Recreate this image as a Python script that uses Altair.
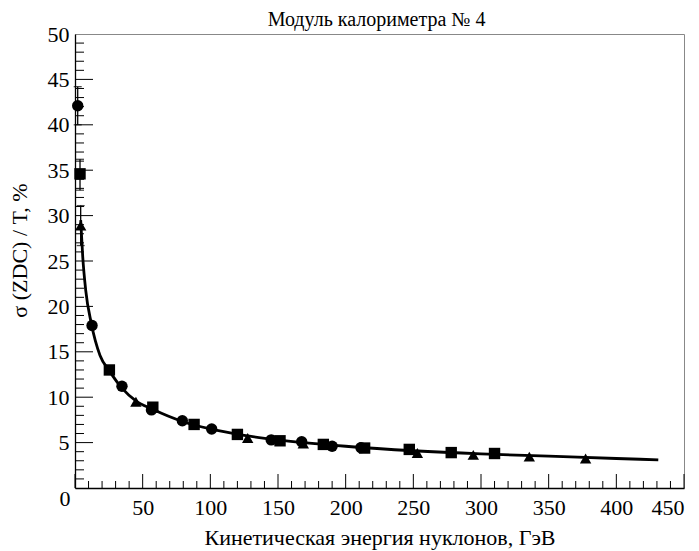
import altair as alt
import pandas as pd

# --- data ---
circle_x = [2.0, 12.6, 34.7, 56.5, 79.3, 101.0, 145.0, 167.5, 190.0, 211.3]
circle_y = [42.1, 17.9, 11.2, 8.6, 7.4, 6.5, 5.3, 5.1, 4.6, 4.45]
square_x = [3.7, 25.4, 57.5, 88.0, 120.0, 151.5, 183.5, 214.0, 247.0, 278.0, 310.0]
square_y = [34.6, 13.0, 8.9, 7.0, 5.9, 5.2, 4.8, 4.4, 4.25, 3.9, 3.8]
tri_x = [4.2, 45.0, 127.6, 168.7, 253.0, 294.3, 335.7, 377.3]
tri_y = [28.9, 9.5, 5.5, 4.9, 3.85, 3.65, 3.45, 3.25]

fit_x = [4.2, 5.7, 7.9, 12.1, 18.5, 25.4, 34.7, 45.0, 57.0, 80.0, 100.0, 125.0,
         150.0, 200.0, 250.0, 300.0, 350.0, 400.0, 431.0]
fit_y = [29.5, 25.5, 21.8, 18.1, 14.6, 12.9, 11.0, 9.6, 8.7, 7.3, 6.5, 5.8,
         5.3, 4.6, 4.1, 3.75, 3.5, 3.25, 3.1]

err_x = [2.0, 3.7, 4.2]
err_lo = [40.0, 32.8, 26.7]
err_hi = [44.2, 36.2, 31.1]

x_labels = [50, 100, 150, 200, 250, 300, 350, 400, 450]
y_labels = [5, 10, 15, 20, 25, 30, 35, 40, 45, 50]
x_major = [0, 50, 100, 150, 200, 250, 300, 350, 400, 450]
x_minor = [v for v in range(10, 450, 10) if v % 50 != 0]
y_major = [5, 10, 15, 20, 25, 30, 35, 40, 45]
y_minor = [v for v in range(1, 50) if v % 5 != 0]

title_text = "Модуль калориметра № 4"
x_title = "Кинетическая энергия нуклонов, ГэВ"
y_title = "σ (ZDC) / T, %"

FONT = "Liberation Serif"
W, H = 609, 454

pts = pd.DataFrame({
    "x": circle_x + square_x + tri_x,
    "y": circle_y + square_y + tri_y,
    "s": ["c"] * len(circle_x) + ["s"] * len(square_x) + ["t"] * len(tri_x),
})
fit = pd.DataFrame({"x": fit_x, "y": fit_y})
err = pd.DataFrame({"x": err_x, "lo": err_lo, "hi": err_hi})

xscale = alt.Scale(domain=[0, 450], nice=False, zero=True)
yscale = alt.Scale(domain=[0, 50], nice=False, zero=True)

x_enc = alt.X("x:Q", scale=xscale, axis=alt.Axis(
    values=x_labels, ticks=False, grid=False, title=x_title,
    labelPadding=9, titleY=49, titleBaseline="middle"))
y_enc = alt.Y("y:Q", scale=yscale, axis=alt.Axis(
    values=y_labels, ticks=False, grid=False, title=y_title,
    labelPadding=6, titleX=-56, titleY=216, titleAlign="center",
    titleBaseline="middle", titleAngle=-90))

base_line = alt.Chart(fit).mark_line(
    color="black", strokeWidth=2.8, interpolate="monotone"
).encode(x=x_enc, y=y_enc)

xmaj = alt.Chart(pd.DataFrame({"x": x_major})).mark_rule(color="black", strokeWidth=1).encode(
    x=alt.X("x:Q", scale=xscale), y=alt.value(H), y2=alt.value(H - 14))
xmin = alt.Chart(pd.DataFrame({"x": x_minor})).mark_rule(color="black", strokeWidth=1).encode(
    x=alt.X("x:Q", scale=xscale), y=alt.value(H), y2=alt.value(H - 7))
ymaj = alt.Chart(pd.DataFrame({"y": y_major})).mark_rule(color="black", strokeWidth=1).encode(
    y=alt.Y("y:Q", scale=yscale), x=alt.value(0), x2=alt.value(18))
ymin = alt.Chart(pd.DataFrame({"y": y_minor})).mark_rule(color="black", strokeWidth=1).encode(
    y=alt.Y("y:Q", scale=yscale), x=alt.value(0), x2=alt.value(9))

ebar = alt.Chart(err).mark_rule(color="black", strokeWidth=1.3).encode(
    x=alt.X("x:Q", scale=xscale), y=alt.Y("lo:Q", scale=yscale), y2="hi:Q")
ecap_lo = alt.Chart(err).mark_tick(color="black", orient="horizontal", size=8, thickness=1.3).encode(
    x=alt.X("x:Q", scale=xscale), y=alt.Y("lo:Q", scale=yscale))
ecap_hi = alt.Chart(err).mark_tick(color="black", orient="horizontal", size=8, thickness=1.3).encode(
    x=alt.X("x:Q", scale=xscale), y=alt.Y("hi:Q", scale=yscale))

points = alt.Chart(pts).mark_point(filled=True, color="black", opacity=1, size=130).encode(
    x=alt.X("x:Q", scale=xscale),
    y=alt.Y("y:Q", scale=yscale),
    shape=alt.Shape("s:N", scale=alt.Scale(domain=["c", "s", "t"],
                                           range=["circle", "square", "triangle-up"]),
                    legend=None),
)

zero_lbl = alt.Chart(pd.DataFrame({"x": [0], "y": [0], "t": ["0"]})).mark_text(
    font=FONT, fontSize=22, color="black", dx=-10, dy=11, align="center", baseline="middle"
).encode(x=alt.X("x:Q", scale=xscale), y=alt.Y("y:Q", scale=yscale), text="t:N")

title_mark = alt.Chart(pd.DataFrame({"t": [title_text]})).mark_text(
    font=FONT, fontSize=20, color="black", align="center", baseline="middle"
).encode(x=alt.value(W / 2 - 3), y=alt.value(-14), text="t:N")

chart = alt.layer(
    base_line, xmaj, xmin, ymaj, ymin, ebar, ecap_lo, ecap_hi, points, zero_lbl, title_mark
).properties(
    width=W, height=H,
    autosize=alt.AutoSizeParams(type="none"),
    padding={"left": 67, "top": 26, "right": 7, "bottom": 62},
).configure_view(
    stroke="#888888", strokeWidth=1
).configure_axis(
    domainColor="black", domainWidth=1.3,
    labelFont=FONT, labelFontSize=22, labelColor="black",
    titleFont=FONT, titleFontSize=22, titleFontWeight="normal", titleColor="black",
)

chart.save("out.html", embed_options={"renderer": "svg", "actions": False})
